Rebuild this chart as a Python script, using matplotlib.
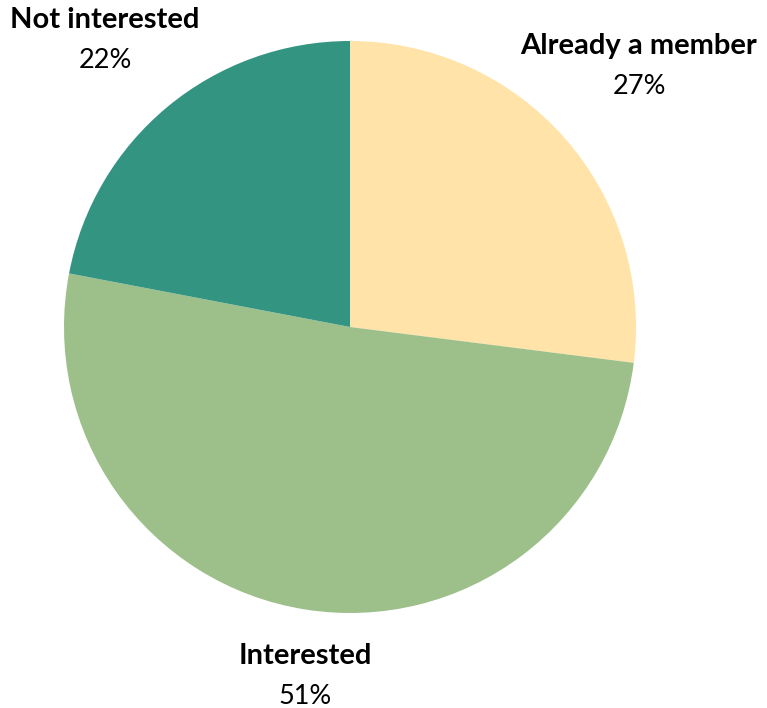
import matplotlib.pyplot as plt

labels = ["Already a member", "Interested", "Not interested"]
shares = [27, 51, 22]
colors = ["#FFE3A8", "#9DC08B", "#339482"]

# label anchor points (pixel-like data coords, origin bottom-left)
label_pos = {
    "Already a member": (639, 662),
    "Interested": (305, 52),
    "Not interested": (105, 688),
}

plt.rcParams['font.family'] = ['Lato', 'DejaVu Sans']

fig = plt.figure(figsize=(7.67, 7.08), dpi=100)
ax = fig.add_axes([0, 0, 1, 1])

ax.pie(shares, colors=colors, startangle=90, counterclock=False,
       center=(350, 381), radius=286, frame=True,
       wedgeprops=dict(linewidth=0))
ax.set_xlim(0, 767)
ax.set_ylim(0, 708)
ax.set_aspect('equal')
ax.axis('off')

total = sum(shares)
for name, val in zip(labels, shares):
    x, y = label_pos[name]
    ax.text(x, y, name, ha='center', va='center', fontsize=21, fontweight='bold', color='black')
    ax.text(x, y - 41, f"{round(val / total * 100)}%", ha='center', va='center',
            fontsize=19.5, fontweight='normal', color='black')

fig.savefig("out.png", dpi=100, facecolor='white')
